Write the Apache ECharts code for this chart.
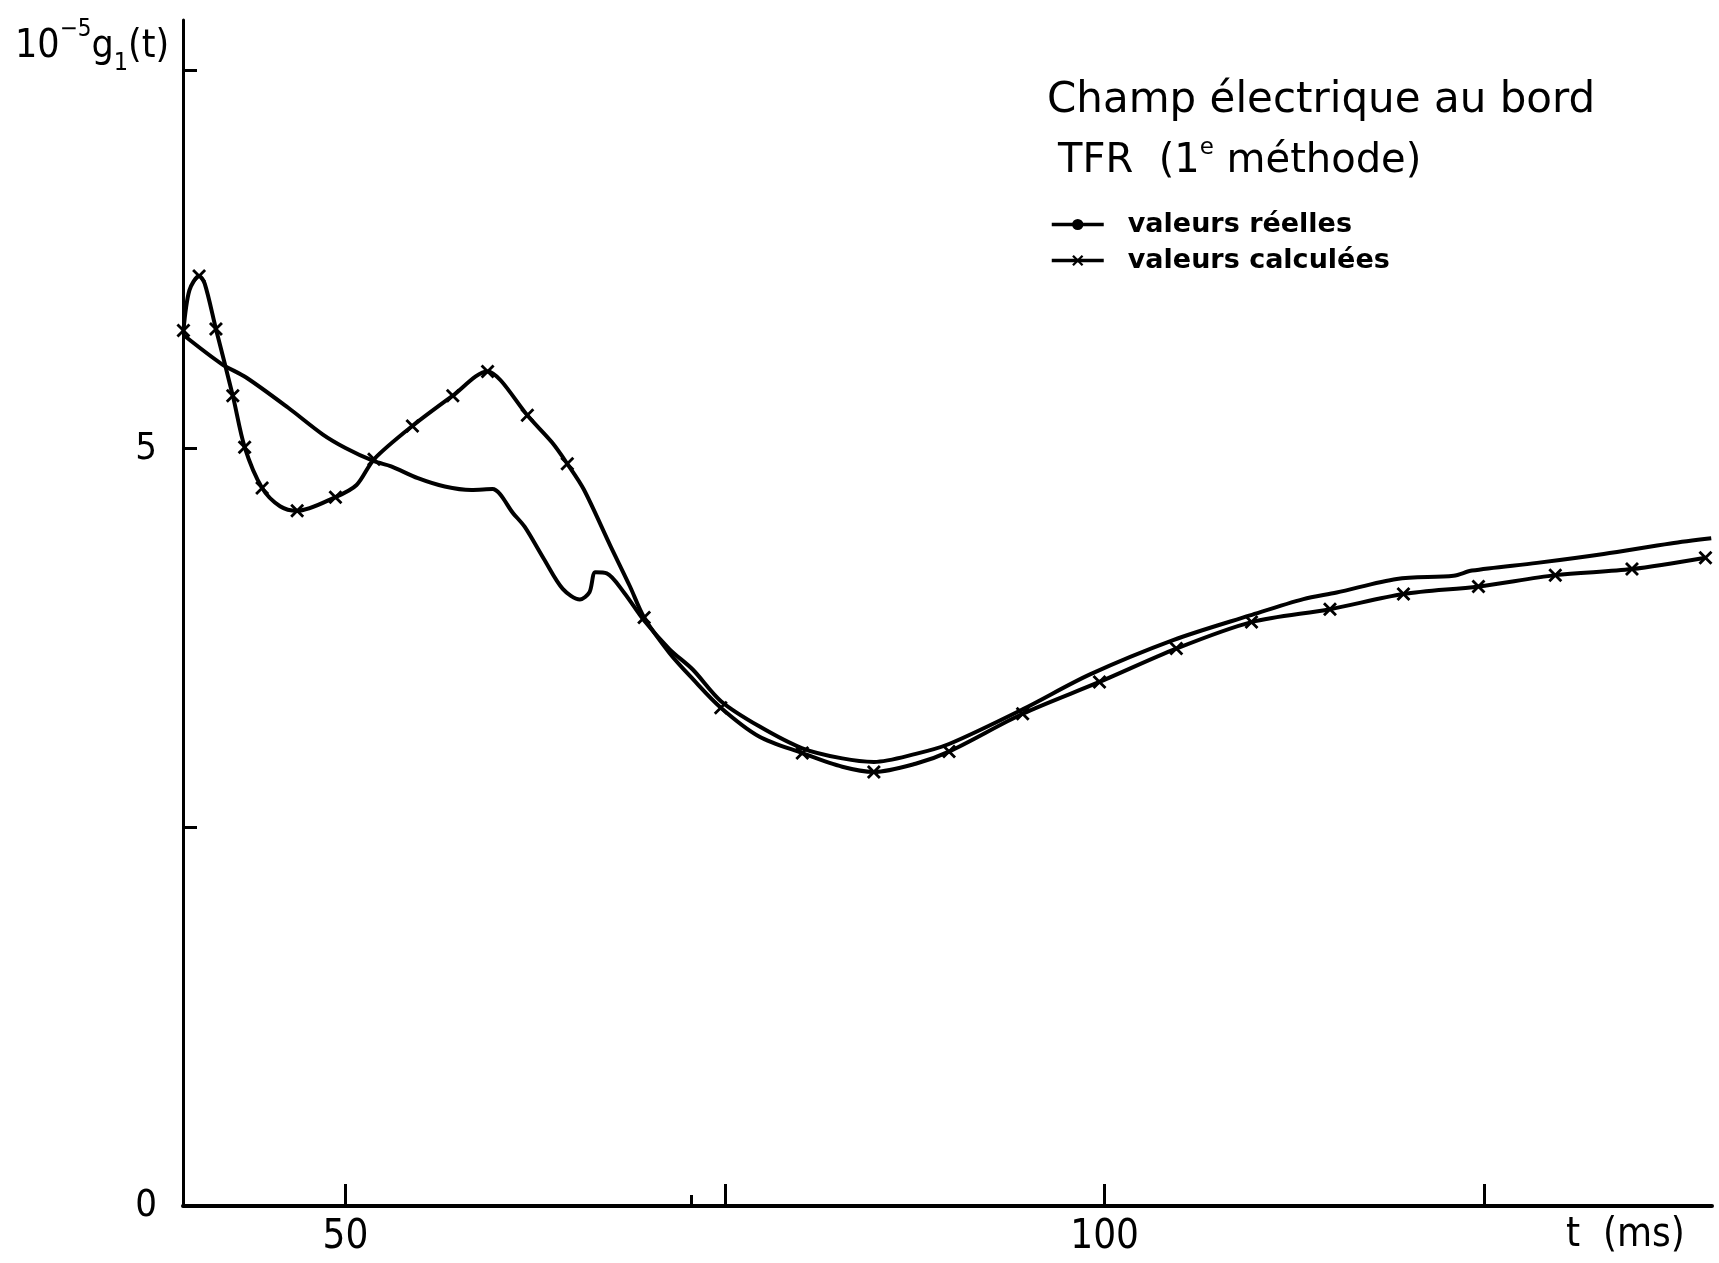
<!DOCTYPE html>
<html><head><meta charset="utf-8">
<script src="https://cdn.jsdelivr.net/npm/echarts@6/dist/echarts.min.js"></script>
<style>html,body{margin:0;padding:0;background:#fff}#c{width:1719px;height:1263px}</style>
</head><body><div id="c"></div>
<script>
// ---- data (t in ms, value in 10^-5 units) ----
const seriesNames = ['valeurs réelles', 'valeurs calculées'];

const realT = [39.33, 41.83, 43.46, 46.23, 48.49, 50.0, 51.88, 53.01, 54.77, 56.54, 58.29, 59.68, 61.06, 61.81, 63.06, 64.31, 65.44, 66.07, 66.46, 67.21, 68.34, 69.67, 71.35, 72.87, 74.73, 77.25, 80.09, 82.72, 84.81, 87.56, 89.75, 94.6, 99.0, 104.51, 109.57, 113.09, 115.28, 119.24, 122.98, 124.2, 128.48, 132.87, 137.27, 139.95];
const realV = [5.75, 5.56, 5.47, 5.27, 5.095, 5.005, 4.917, 4.883, 4.805, 4.75, 4.727, 4.733, 4.571, 4.483, 4.273, 4.074, 4.004, 4.052, 4.184, 4.177, 4.051, 3.865, 3.675, 3.542, 3.333, 3.167, 3.022, 2.955, 2.932, 2.985, 3.05, 3.279, 3.508, 3.736, 3.899, 4.007, 4.05, 4.14, 4.161, 4.195, 4.246, 4.305, 4.374, 4.408];

const calcT = [39.33, 39.72, 40.36, 40.73, 41.47, 42.58, 43.36, 44.51, 45.69, 46.82, 49.34, 50.73, 51.88, 54.41, 57.07, 59.36, 60.23, 61.98, 63.61, 64.61, 65.70, 67.44, 68.74, 69.67, 71.35, 72.87, 74.72, 77.24, 80.09, 82.72, 84.80, 87.55, 89.75, 94.60, 99.66, 104.72, 109.67, 114.84, 119.68, 124.62, 129.68, 134.73, 139.57];
const calcV = [5.78, 6.045, 6.14, 6.09, 5.79, 5.35, 5.01, 4.74, 4.62, 4.59, 4.68, 4.76, 4.93, 5.15, 5.35, 5.51, 5.45, 5.22, 5.04, 4.90, 4.73, 4.36, 4.09, 3.885, 3.65, 3.48, 3.29, 3.10, 2.99, 2.90, 2.866, 2.92, 3.00, 3.25, 3.46, 3.68, 3.855, 3.94, 4.04, 4.09, 4.165, 4.205, 4.28];
// 1 = point drawn with a cross marker
const calcMark = [1, 0, 1, 0, 1, 1, 1, 1, 0, 1, 1, 0, 1, 1, 1, 1, 0, 1, 0, 1, 0, 0, 0, 1, 0, 0, 1, 0, 1, 0, 1, 0, 1, 1, 1, 1, 1, 1, 1, 1, 1, 1, 1];

const xTicks = [50, 75, 100, 125];
const xLabels = [50, 100];
const xSmallTick = [72.8];
const yTicks = [2.5, 5, 7.5];
const yLabels = [0, 5];

const CROSS = 'path://M0,2L2,0L7,5L12,0L14,2L9,7L14,12L12,14L7,9L2,14L0,12L5,7Z';
const INK = '#000';
const NUMFONT = "'DejaVu Sans Condensed', 'DejaVu Sans'";
const TXTFONT = "'DejaVu Sans'";

const realData = realT.map((t, i) => [t, realV[i]]);
const calcData = calcT.map((t, i) => calcMark[i] ? [t, calcV[i]] : { value: [t, calcV[i]], symbol: 'none' });

const chart = echarts.init(document.getElementById('c'));
chart.setOption({
  animation: false,
  backgroundColor: '#fff',
  textStyle: { fontFamily: TXTFONT, color: INK },
  grid: { left: 183, right: 7, top: 20, bottom: 57 },
  xAxis: [{
    type: 'value', min: 39.3, max: 140,
    axisLine: { show: true, onZero: false, lineStyle: { color: INK, width: 4 } },
    axisTick: { show: true, inside: true, length: 22, customValues: xTicks, lineStyle: { color: INK, width: 3 } },
    axisLabel: { customValues: xLabels, margin: 12, fontSize: 40, fontFamily: NUMFONT, color: INK },
    splitLine: { show: false }
  }, {
    type: 'value', min: 39.3, max: 140, position: 'bottom',
    axisLine: { show: false }, axisLabel: { show: false }, splitLine: { show: false },
    axisTick: { show: true, inside: true, length: 11, customValues: xSmallTick, lineStyle: { color: INK, width: 3 } }
  }],
  yAxis: {
    type: 'value', min: 0, max: 7.83,
    axisLine: { show: true, lineStyle: { color: INK, width: 3 } },
    axisTick: { show: true, inside: true, length: 14, customValues: yTicks, lineStyle: { color: INK, width: 3 } },
    axisLabel: { customValues: yLabels, margin: 26, fontSize: 38, fontFamily: NUMFONT, color: INK },
    splitLine: { show: false }
  },
  legend: {
    orient: 'vertical', left: 1045, top: 206, itemWidth: 52, itemHeight: 14, itemGap: 9,
    data: seriesNames,
    lineStyle: { width: 3.5, color: INK },
    textStyle: { fontSize: 27, fontWeight: 'bold', fontFamily: TXTFONT, color: INK, padding: [0, 0, 0, 19] }
  },
  title: [
    { text: 'Champ électrique au bord', left: 1047, top: 80, padding: 0,
      textStyle: { fontSize: 42, fontWeight: 'normal', fontFamily: TXTFONT, color: INK } },
    { text: '{t|TFR  (1}{s|e}{t| méthode)}', left: 1058, top: 137, padding: 0,
      textStyle: { fontWeight: 'normal', rich: {
        t: { fontSize: 40, lineHeight: 50, fontWeight: 'normal', fontFamily: TXTFONT, color: INK },
        s: { fontSize: 23, lineHeight: 24, fontWeight: 'normal', verticalAlign: 'top', fontFamily: TXTFONT, color: INK }
      } } },
    { text: '{a|10}{s|−5}{a|g}{b|1}{a|(t)}', left: 15, top: 18, padding: 0,
      textStyle: { fontWeight: 'normal', rich: {
        a: { fontSize: 39, lineHeight: 58, fontWeight: 'normal', fontFamily: NUMFONT, color: INK },
        s: { fontSize: 24, lineHeight: 24, fontWeight: 'normal', verticalAlign: 'top', fontFamily: NUMFONT, color: INK },
        b: { fontSize: 25, lineHeight: 26, fontWeight: 'normal', verticalAlign: 'bottom', fontFamily: NUMFONT, color: INK }
      } } },
    { text: 't  (ms)', left: 1566, top: 1216, padding: 0,
      textStyle: { fontSize: 40, fontWeight: 'normal', fontFamily: NUMFONT, color: INK } }
  ],
  series: [{
    name: seriesNames[0], type: 'line', data: realData,
    smooth: 0.3, symbol: 'circle', showSymbol: false,
    lineStyle: { color: INK, width: 4 }, itemStyle: { color: INK }
  }, {
    name: seriesNames[1], type: 'line', data: calcData,
    smooth: 0.3, symbol: CROSS, symbolSize: 14, showSymbol: true,
    lineStyle: { color: INK, width: 4 }, itemStyle: { color: INK }
  }]
});
</script></body></html>
